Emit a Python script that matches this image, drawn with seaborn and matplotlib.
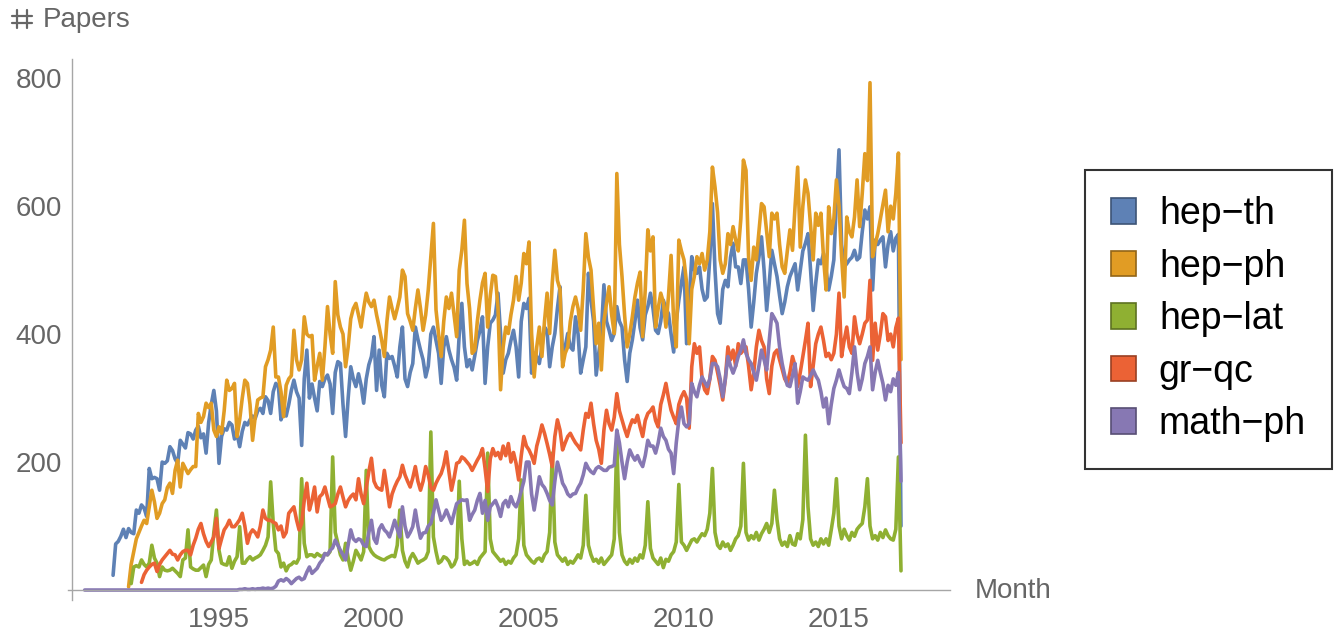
import pandas as pd
import seaborn as sns
import matplotlib.pyplot as plt
from matplotlib.patches import Patch
from matplotlib.lines import Line2D
from matplotlib.colors import to_rgb

# monthly new submissions per arXiv category
archives = ['hep−th', 'hep−ph', 'hep−lat', 'gr−qc', 'math−ph']
colors = ['#5E81B5', '#E19C24', '#8FB032', '#EB6235', '#8778B3']
first_month = [(1991, 8), (1992, 2), (1992, 3), (1992, 7), (1990, 9)]

hep_th = [
    23, 72, 76, 84, 95,
    82, 96, 90, 88, 125, 120, 133, 128, 115, 190, 174, 176,
    174, 156, 200, 198, 202, 224, 218, 205, 198, 234, 228, 222,
    246, 244, 236, 250, 256, 238, 244, 214, 262, 290, 312, 280,
    198, 240, 252, 250, 262, 258, 236, 244, 224, 248, 262, 258,
    266, 272, 268, 280, 284, 276, 302, 296, 276, 310, 323, 318,
    266, 280, 272, 290, 312, 328, 310, 300, 226, 330, 375, 300,
    322, 300, 280, 326, 318, 330, 336, 322, 276, 340, 357, 354,
    290, 240, 300, 349, 330, 318, 338, 320, 292, 330, 352, 365,
    396, 312, 375, 320, 302, 370, 362, 365, 350, 333, 380, 411,
    330, 318, 340, 354, 411, 392, 375, 360, 333, 350, 400, 411,
    390, 370, 323, 380, 396, 375, 360, 348, 328, 400, 448, 380,
    349, 360, 344, 366, 390, 405, 427, 323, 380, 417, 422, 430,
    464, 400, 339, 360, 370, 390, 406, 380, 333, 420, 448, 440,
    456, 339, 370, 365, 354, 380, 411, 405, 349, 380, 401, 440,
    474, 359, 380, 401, 380, 375, 427, 400, 339, 360, 380, 495,
    453, 420, 336, 370, 401, 477, 420, 406, 390, 401, 443, 420,
    411, 360, 326, 370, 391, 420, 453, 410, 391, 430, 443, 464,
    440, 406, 401, 420, 453, 440, 432, 400, 372, 420, 453, 480,
    505, 385, 450, 521, 500, 495, 505, 470, 453, 458, 520, 604,
    500, 432, 417, 470, 484, 474, 520, 542, 505, 505, 479, 516,
    516, 470, 411, 450, 495, 520, 552, 500, 437, 480, 531, 510,
    490, 460, 432, 450, 474, 490, 500, 510, 469, 500, 530, 542,
    557, 500, 437, 480, 516, 510, 526, 500, 469, 490, 516, 609,
    688, 540, 505, 510, 516, 520, 531, 516, 520, 560, 594, 580,
    599, 469, 547, 540, 547, 552, 505, 540, 560, 530, 550, 556,
    100,
]

hep_ph = [
    5, 40, 60, 80, 90, 100, 109, 104, 130, 156, 138,
    112, 120, 135, 141, 160, 167, 151, 187, 203, 161, 198, 190,
    182, 188, 193, 193, 276, 262, 271, 292, 285, 292, 250, 240,
    255, 245, 280, 328, 312, 315, 323, 240, 266, 300, 328, 323,
    290, 234, 270, 297, 300, 302, 349, 360, 375, 411, 333, 333,
    310, 271, 320, 330, 335, 406, 360, 344, 360, 427, 400, 396,
    398, 328, 350, 370, 328, 380, 443, 400, 370, 482, 430, 411,
    400, 349, 380, 424, 440, 448, 430, 411, 440, 464, 450, 443,
    453, 430, 411, 390, 365, 420, 458, 440, 424, 440, 458, 500,
    490, 432, 420, 406, 440, 469, 440, 406, 430, 469, 520, 573,
    438, 400, 365, 420, 458, 440, 464, 430, 396, 500, 531, 578,
    479, 440, 370, 375, 420, 453, 480, 495, 411, 460, 492, 490,
    440, 313, 380, 411, 401, 430, 453, 490, 453, 480, 526, 510,
    544, 401, 333, 380, 411, 365, 420, 464, 401, 480, 531, 484,
    470, 349, 370, 380, 420, 443, 458, 440, 406, 470, 557, 520,
    500, 440, 385, 417, 344, 420, 448, 474, 430, 401, 651, 540,
    490, 430, 380, 400, 427, 458, 480, 497, 396, 470, 563, 530,
    552, 411, 440, 464, 450, 411, 460, 523, 420, 380, 547, 530,
    516, 480, 385, 470, 490, 521, 510, 526, 500, 516, 560, 661,
    630, 590, 516, 495, 510, 557, 540, 568, 547, 530, 580, 672,
    656, 520, 484, 536, 516, 560, 604, 599, 560, 521, 589, 580,
    589, 540, 505, 495, 530, 563, 531, 600, 661, 536, 600, 641,
    620, 570, 516, 589, 570, 589, 520, 469, 599, 557, 580, 641,
    600, 521, 458, 583, 560, 552, 583, 641, 568, 620, 682, 640,
    793, 521, 540, 557, 580, 604, 625, 560, 600, 580, 620, 683,
    360,
]

hep_lat = [
    10, 36, 38, 36, 47, 40, 36, 42, 70, 50,
    42, 21, 36, 31, 30, 31, 34, 30, 26, 21, 47, 50,
    94, 36, 33, 31, 31, 35, 39, 21, 40, 47, 90, 125,
    62, 42, 40, 39, 52, 34, 45, 52, 99, 42, 42, 48,
    52, 47, 50, 52, 55, 62, 70, 83, 169, 104, 62, 57,
    36, 42, 30, 38, 40, 44, 42, 50, 174, 73, 52, 55,
    55, 52, 57, 54, 52, 57, 55, 60, 208, 90, 73, 55,
    47, 73, 50, 31, 45, 62, 55, 47, 60, 187, 68, 60,
    55, 52, 50, 48, 47, 50, 52, 54, 52, 70, 125, 62,
    45, 36, 50, 57, 50, 42, 45, 47, 50, 60, 247, 83,
    60, 42, 45, 52, 50, 45, 36, 40, 50, 170, 80, 40,
    45, 40, 42, 45, 40, 50, 55, 60, 214, 80, 60, 55,
    50, 45, 48, 40, 45, 42, 50, 55, 80, 172, 70, 55,
    50, 45, 42, 48, 50, 45, 55, 60, 90, 214, 75, 55,
    50, 45, 50, 40, 45, 42, 48, 55, 50, 70, 148, 70,
    55, 45, 48, 42, 50, 40, 45, 50, 55, 80, 234, 90,
    55, 45, 40, 48, 42, 50, 45, 55, 50, 70, 138, 65,
    50, 45, 40, 50, 35, 48, 45, 55, 60, 75, 165, 75,
    70, 62, 70, 78, 80, 75, 82, 88, 85, 95, 120, 190,
    90, 70, 65, 75, 68, 72, 62, 70, 80, 85, 100, 198,
    90, 78, 85, 80, 90, 78, 88, 95, 104, 90, 104, 156,
    110, 80, 70, 75, 68, 85, 72, 70, 88, 80, 110, 242,
    130, 80, 70, 75, 68, 80, 72, 80, 70, 94, 120, 174,
    100, 80, 95, 85, 78, 90, 84, 95, 100, 104, 130, 174,
    100, 80, 85, 78, 90, 82, 94, 85, 80, 78, 95, 208,
    30,
]

gr_qc = [
    12, 24, 31, 36, 40, 42,
    29, 40, 47, 52, 57, 62, 56, 55, 47, 55, 60, 62,
    62, 55, 70, 81, 95, 104, 88, 76, 68, 75, 83, 112,
    65, 80, 94, 100, 109, 99, 99, 104, 110, 120, 100, 73,
    88, 94, 90, 83, 100, 125, 112, 109, 109, 106, 104, 94,
    100, 83, 90, 120, 125, 130, 110, 94, 104, 140, 167, 125,
    140, 161, 122, 146, 150, 161, 145, 130, 132, 135, 150, 161,
    145, 130, 140, 146, 150, 141, 174, 150, 135, 160, 185, 206,
    170, 161, 158, 156, 187, 160, 130, 150, 161, 170, 177, 195,
    180, 170, 161, 175, 193, 170, 156, 170, 193, 180, 160, 156,
    167, 175, 182, 195, 216, 185, 156, 175, 198, 200, 208, 205,
    200, 195, 187, 195, 203, 210, 221, 190, 154, 205, 221, 210,
    215, 205, 225, 210, 229, 200, 215, 198, 172, 210, 240, 225,
    219, 210, 198, 225, 240, 258, 245, 229, 212, 193, 240, 266,
    250, 219, 230, 240, 245, 237, 230, 225, 219, 250, 276, 270,
    292, 260, 234, 220, 198, 250, 281, 260, 250, 270, 307, 280,
    266, 252, 240, 255, 266, 262, 273, 255, 240, 265, 276, 280,
    286, 265, 255, 290, 305, 323, 300, 281, 270, 260, 290, 302,
    310, 300, 253, 349, 385, 370, 380, 330, 313, 307, 330, 365,
    359, 340, 320, 297, 330, 380, 360, 375, 350, 385, 370, 375,
    380, 350, 313, 340, 380, 406, 390, 380, 330, 307, 350, 370,
    375, 360, 345, 330, 323, 340, 365, 350, 318, 340, 365, 390,
    417, 318, 350, 385, 400, 411, 390, 365, 370, 360, 370, 400,
    464, 365, 390, 411, 380, 370, 427, 400, 385, 400, 417, 422,
    484, 359, 417, 375, 400, 432, 427, 390, 400, 380, 410, 425,
    230,
]

math_ph = [
    0, 0, 0, 0,
    0, 0, 0, 0, 0, 0, 0, 0, 0, 0, 0, 0,
    0, 0, 0, 0, 0, 0, 0, 0, 0, 0, 0, 0,
    0, 0, 0, 0, 0, 0, 0, 0, 0, 0, 0, 0,
    0, 0, 0, 0, 0, 0, 0, 0, 0, 0, 0, 0,
    0, 0, 0, 0, 0, 0, 0, 0, 1, 1, 2, 1,
    1, 2, 1, 2, 2, 3, 2, 3, 2, 3, 6, 14,
    16, 14, 18, 15, 10, 14, 18, 20, 16, 18, 28, 36,
    26, 30, 34, 42, 47, 57, 55, 62, 66, 78, 70, 62,
    55, 47, 70, 94, 80, 76, 80, 78, 70, 68, 90, 109,
    80, 73, 95, 102, 94, 90, 83, 95, 109, 95, 83, 130,
    100, 83, 90, 99, 125, 100, 81, 89, 90, 100, 104, 120,
    141, 125, 109, 115, 125, 115, 104, 120, 135, 138, 141, 140,
    141, 109, 118, 125, 140, 151, 120, 140, 109, 130, 135, 140,
    130, 115, 135, 140, 130, 146, 135, 130, 140, 155, 170, 200,
    200, 150, 125, 150, 177, 165, 160, 151, 140, 133, 170, 200,
    185, 167, 160, 150, 146, 150, 151, 160, 167, 180, 198, 190,
    185, 182, 190, 193, 190, 187, 187, 192, 193, 195, 250, 230,
    200, 174, 200, 219, 210, 203, 210, 200, 193, 210, 234, 225,
    225, 214, 230, 253, 240, 234, 220, 214, 182, 230, 266, 286,
    260, 255, 260, 323, 310, 302, 320, 333, 325, 318, 330, 354,
    354, 349, 330, 302, 330, 365, 350, 339, 350, 365, 375, 391,
    370, 360, 354, 340, 328, 350, 375, 360, 344, 390, 432, 425,
    417, 380, 354, 335, 320, 318, 335, 354, 292, 310, 333, 330,
    328, 335, 344, 335, 328, 310, 286, 300, 260, 290, 315, 328,
    344, 330, 318, 315, 307, 340, 380, 340, 313, 330, 354, 365,
    380, 313, 340, 359, 340, 323, 297, 320, 310, 330, 320, 340,
    170,
]

series = [hep_th, hep_ph, hep_lat, gr_qc, math_ph]

rows = []
for name, (y0, m0), vals in zip(archives, first_month, series):
    for i, v in enumerate(vals):
        rows.append({'archive': name, 'month': y0 + (m0 - 1 + i) / 12, 'papers': v})
df = pd.DataFrame(rows)

sns.set_style('white')
plt.rcParams['font.family'] = ['Liberation Sans', 'DejaVu Sans']

W, H = 1338, 632
fig = plt.figure(figsize=(W / 100, H / 100), dpi=100)
ax = fig.add_axes([68 / W, (H - 600) / H, (950 - 68) / W, (600 - 59) / H])

sns.lineplot(data=df, x='month', y='papers', hue='archive', hue_order=archives,
             palette=dict(zip(archives, colors)), estimator=None, errorbar=None,
             linewidth=2.6, legend=False, ax=ax)

ax.set_xlim(1990.129, 2000 + (950 - 374) / 31)
ax.set_ylim(-15.6, 830)
ax.spines['top'].set_visible(False)
ax.spines['right'].set_visible(False)
ax.spines['left'].set_position(('data', 1990.258))
ax.spines['bottom'].set_position(('data', 0))
for s in ['left', 'bottom']:
    ax.spines[s].set_color('#a6a6a6')
    ax.spines[s].set_linewidth(1.0)

ax.set_xticks([1995, 2000, 2005, 2010, 2015])
ax.set_xticks(range(1991, 2019), minor=True)
ax.set_yticks([200, 400, 600, 800])
ax.set_yticks(range(50, 801, 50), minor=True)
ax.tick_params(which='both', direction='in', color='#a6a6a6', width=1.0,
               labelsize=20, labelcolor='#666666')
ax.tick_params(which='major', length=7.5)
ax.tick_params(which='minor', length=4.5)
ax.tick_params(axis='x', pad=12.5)
ax.tick_params(axis='y', pad=7)
ax.set_xlabel('')
ax.set_ylabel('')

fig.text(975 / W, 1 - 591 / H, 'Month', fontsize=20, color='#666666',
         ha='left', va='center')

# the viewdata-square sign (⌗) is in none of the installed fonts, so draw it as strokes
fx = lambda px: px / W
fy = lambda py: 1 - py / H
for xv in (17, 27):
    fig.add_artist(Line2D([fx(xv), fx(xv)], [fy(10), fy(28)], color='#666666', lw=1.6,
                          transform=fig.transFigure))
for yv in (16, 23):
    fig.add_artist(Line2D([fx(12), fx(32)], [fy(yv), fy(yv)], color='#666666', lw=1.6,
                          transform=fig.transFigure))
fig.text(43 / W, 1 - 20 / H, 'Papers', fontsize=20, color='#666666',
         ha='left', va='center')

handles = [Patch(facecolor=c, edgecolor=tuple(0.65 * x for x in to_rgb(c)), linewidth=1.2)
           for c in colors]
leg = fig.legend(handles, archives, loc='upper left',
                 bbox_to_anchor=(1085 / W, 1 - 170 / H), bbox_transform=fig.transFigure,
                 fontsize=27, frameon=True, fancybox=False, edgecolor='black',
                 borderpad=0.7, handlelength=0.67, handleheight=0.67,
                 handletextpad=0.6, labelspacing=0.44, borderaxespad=0)
leg.get_frame().set_linewidth(1.5)
for t in leg.get_texts():
    t.set_color('black')

fig.savefig('out.png', dpi=100)
